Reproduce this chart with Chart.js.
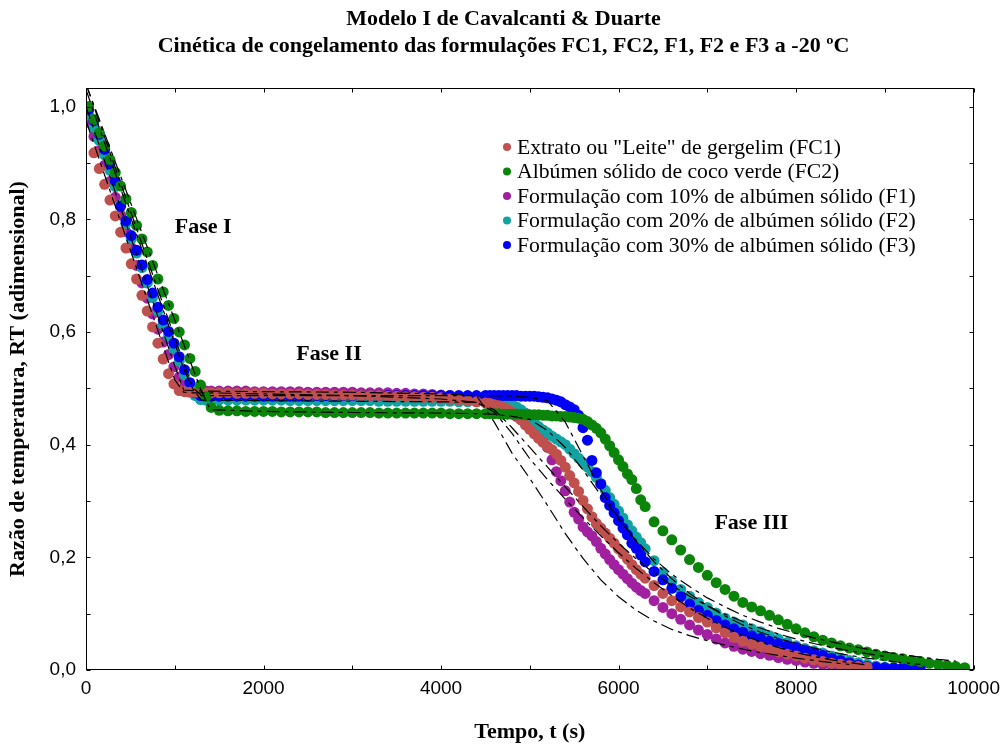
<!DOCTYPE html>
<html>
<head>
<meta charset="utf-8">
<script src="https://cdn.jsdelivr.net/npm/chart.js@4.4.1/dist/chart.umd.min.js"></script>
<style>
  html, body { margin: 0; padding: 0; background: #fff; }
</style>
</head>
<body>
<canvas id="grafico" width="1007" height="747"></canvas>
<script>
// tempos de leitura (s)
const tempo = [30, 90, 150, 210, 270, 330, 390, 450, 510, 570, 630, 690, 750, 810, 870, 930, 990, 1050, 1110, 1170, 1230, 1290, 1350, 1410,
  1500, 1600, 1700, 1800, 1900, 2000,
  2100, 2200, 2300, 2400, 2500, 2600, 2700, 2800, 2900, 3000,
  3100, 3200, 3300, 3400, 3500, 3600, 3700, 3800, 3900, 4000,
  4100, 4200, 4300, 4400,
  4500, 4550, 4600, 4650, 4700, 4750, 4800, 4850, 4900, 4950,
  5000, 5050, 5100, 5150, 5200, 5250, 5300, 5350, 5400, 5450,
  5500, 5550, 5600, 5650, 5700, 5750, 5800, 5850, 5900, 5950,
  6000, 6050, 6100, 6150, 6200, 6250, 6300, 6400,
  6500, 6600, 6700, 6800, 6900, 7000,
  7100, 7200, 7300, 7400, 7500, 7600, 7700, 7800, 7900, 8000,
  8100, 8200, 8300, 8400, 8500, 8600, 8700, 8800, 8900, 9000,
  9100, 9200, 9300, 9400, 9500, 9600, 9700, 9800, 9900, 10000];

// razão de temperatura RT (experimental)
const rtFC1 = [null, 0.918, 0.890, 0.862, 0.834, 0.806, 0.777, 0.749, 0.721, 0.694, 0.665, 0.637, 0.609, 0.580, 0.552, 0.526, 0.508, 0.496, 0.494, 0.493, 0.493, 0.493, 0.492, 0.492,
  0.492, 0.492, 0.491, 0.491, 0.491, 0.491,
  0.490, 0.490, 0.490, 0.490, 0.489, 0.489, 0.489, 0.488, 0.488, 0.488,
  0.487, 0.487, 0.487, 0.486, 0.486, 0.485, 0.485, 0.484, 0.484, 0.483,
  0.481, 0.480, 0.478, 0.476,
  0.474, 0.473, 0.471, 0.469, 0.466, 0.463, 0.458, 0.452, 0.444, 0.435,
  0.427, 0.419, 0.411, 0.404, 0.397, 0.391, 0.383, 0.372, 0.360, 0.345,
  0.332, 0.317, 0.301, 0.286, 0.272, 0.260, 0.252, 0.243, 0.234, 0.225,
  0.215, 0.206, 0.197, 0.187, 0.178, 0.170, 0.163, 0.150,
  0.136, 0.123, 0.112, 0.103, 0.093, 0.085,
  0.075, 0.066, 0.058, 0.051, 0.046, 0.041, 0.036, 0.032, 0.028, 0.025,
  0.021, 0.018, 0.015, 0.012, 0.010, 0.008, 0.006, 0.005, null, null,
  null, null, null, null, null, null, null, null, null, null];

const rtFC2 = [1.000, 0.977, 0.953, 0.930, 0.906, 0.883, 0.859, 0.836, 0.812, 0.789, 0.765, 0.742, 0.718, 0.694, 0.671, 0.647, 0.624, 0.600, 0.577, 0.553, 0.530, 0.506, 0.485, 0.466,
  0.461, 0.460, 0.460, 0.459, 0.459, 0.459,
  0.459, 0.458, 0.458, 0.458, 0.458, 0.458, 0.457, 0.457, 0.457, 0.457,
  0.457, 0.457, 0.456, 0.456, 0.456, 0.456, 0.456, 0.456, 0.456, 0.456,
  0.455, 0.455, 0.455, 0.455,
  0.455, 0.455, 0.455, 0.455, 0.454, 0.454, 0.454, 0.454, 0.454, 0.453,
  0.453, 0.453, 0.453, 0.452, 0.452, 0.451, 0.451, 0.450, 0.450, 0.449,
  0.448, 0.447, 0.445, 0.441, 0.435, 0.429, 0.421, 0.410, 0.398, 0.386,
  0.373, 0.361, 0.348, 0.338, 0.322, 0.302, 0.290, 0.263,
  0.247, 0.231, 0.213, 0.196, 0.182, 0.168,
  0.155, 0.143, 0.131, 0.120, 0.112, 0.105, 0.097, 0.089, 0.081, 0.073,
  0.066, 0.059, 0.053, 0.048, 0.043, 0.039, 0.036, 0.032, 0.028, 0.025,
  0.022, 0.020, 0.017, 0.015, 0.012, 0.010, 0.008, 0.006, 0.004, null];

const rtF1 = [0.972, 0.947, 0.922, 0.896, 0.867, 0.839, 0.808, 0.778, 0.750, 0.718, 0.687, 0.660, 0.632, 0.605, 0.582, 0.560, 0.538, 0.520, 0.505, 0.497, 0.495, 0.495, 0.495, 0.495,
  0.495, 0.495, 0.495, 0.495, 0.494, 0.494,
  0.494, 0.494, 0.494, 0.494, 0.493, 0.493, 0.493, 0.493, 0.493, 0.493,
  0.492, 0.492, 0.492, 0.492, 0.491, 0.491, 0.490, 0.490, 0.489, 0.488,
  0.487, 0.486, 0.485, 0.484,
  0.482, 0.480, 0.476, 0.471, 0.466, 0.461, 0.455, 0.450, 0.445, 0.440,
  0.434, 0.428, 0.422, 0.410, 0.395, 0.373, 0.352, 0.336, 0.318, 0.298,
  0.280, 0.268, 0.254, 0.245, 0.238, 0.228, 0.216, 0.206, 0.196, 0.187,
  0.178, 0.170, 0.162, 0.154, 0.147, 0.141, 0.136, 0.123,
  0.111, 0.100, 0.090, 0.080, 0.071, 0.063,
  0.055, 0.048, 0.042, 0.037, 0.033, 0.029, 0.026, 0.022, 0.019, 0.017,
  0.014, 0.012, 0.010, 0.008, 0.006, null, null, null, null, null,
  null, null, null, null, null, null, null, null, null, null];

const rtF2 = [0.985, 0.963, 0.940, 0.914, 0.887, 0.858, 0.826, 0.792, 0.765, 0.740, 0.714, 0.687, 0.661, 0.637, 0.613, 0.592, 0.570, 0.548, 0.524, 0.503, 0.487, 0.480, 0.479, 0.479,
  0.479, 0.479, 0.479, 0.479, 0.479, 0.479,
  0.479, 0.479, 0.478, 0.478, 0.478, 0.478, 0.478, 0.478, 0.478, 0.478,
  0.478, 0.478, 0.477, 0.477, 0.477, 0.477, 0.477, 0.477, 0.477, 0.477,
  0.477, 0.476, 0.476, 0.476,
  0.476, 0.476, 0.475, 0.475, 0.474, 0.473, 0.471, 0.467, 0.462, 0.456,
  0.449, 0.440, 0.432, 0.426, 0.421, 0.415, 0.410, 0.405, 0.400, 0.392,
  0.384, 0.376, 0.368, 0.360, 0.352, 0.342, 0.331, 0.319, 0.306, 0.294,
  0.282, 0.270, 0.258, 0.247, 0.236, 0.226, 0.215, 0.194,
  0.173, 0.157, 0.143, 0.131, 0.120, 0.111,
  0.101, 0.092, 0.085, 0.080, 0.073, 0.068, 0.061, 0.055, 0.049, 0.043,
  0.038, 0.034, 0.030, 0.025, 0.021, 0.017, 0.013, 0.010, 0.007, 0.005,
  null, null, null, null, null, null, null, null, null, null];

const rtF3 = [0.995, 0.975, 0.951, 0.924, 0.898, 0.868, 0.823, 0.797, 0.771, 0.745, 0.719, 0.693, 0.669, 0.644, 0.621, 0.601, 0.580, 0.556, 0.533, 0.510, 0.492, 0.487, 0.486, 0.486,
  0.486, 0.486, 0.486, 0.486, 0.486, 0.486,
  0.486, 0.486, 0.486, 0.486, 0.486, 0.487, 0.487, 0.487, 0.487, 0.487,
  0.487, 0.487, 0.487, 0.487, 0.487, 0.487, 0.487, 0.487, 0.487, 0.487,
  0.487, 0.487, 0.487, 0.487,
  0.487, 0.487, 0.487, 0.487, 0.487, 0.487, 0.487, 0.487, 0.486, 0.486,
  0.486, 0.486, 0.485, 0.484, 0.483, 0.481, 0.479, 0.476, 0.471, 0.467,
  0.462, 0.452, 0.430, 0.408, 0.372, 0.350, 0.330, 0.306, 0.292, 0.279,
  0.265, 0.252, 0.240, 0.225, 0.216, 0.204, 0.192, 0.175,
  0.160, 0.145, 0.130, 0.117, 0.106, 0.097,
  0.088, 0.080, 0.073, 0.067, 0.061, 0.056, 0.051, 0.047, 0.043, 0.040,
  0.035, 0.031, 0.026, 0.021, 0.017, 0.013, 0.009, 0.006, 0.005, 0.004,
  0.004, 0.004, 0.004, 0.004, null, null, null, null, null, null];

// curvas do modelo I (tracejadas)
const tempoModelo = [0, 1000, 1100, 1200, 1300, 1400, 2000, 3000, 4000, 4400,
  4600, 4800, 5000, 5200, 5400, 5600, 5800, 6000, 6200, 6400, 6600, 6800, 7000, 7200,
  7400, 7600, 7800, 8000, 8200, 8400, 8600, 8800, 9000, 9200, 9400, 9600, 9800, 10000];
const modFC1 = [0.975, 0.515, 0.493, 0.492, 0.492, 0.492, 0.490, 0.487, 0.481, 0.475,
  0.458, 0.420, 0.375, 0.338, 0.303, 0.270, 0.238, 0.208, 0.180, 0.155, 0.132, 0.110, 0.092, 0.076,
  0.062, 0.050, 0.040, 0.031, 0.024, 0.018, 0.013, 0.009, null, null, null, null, null, null];
const modFC2 = [1.040, 0.621, 0.579, 0.537, 0.495, 0.462, 0.459, 0.457, 0.456, 0.455,
  0.454, 0.450, 0.445, 0.425, 0.395, 0.355, 0.310, 0.268, 0.230, 0.197, 0.170, 0.148, 0.128, 0.112,
  0.097, 0.085, 0.074, 0.065, 0.057, 0.050, 0.043, 0.037, 0.032, 0.027, 0.023, 0.019, 0.016, null];
const modF1 = [1.000, 0.540, 0.497, 0.496, 0.495, 0.495, 0.494, 0.493, 0.490, 0.487,
  0.440, 0.385, 0.340, 0.292, 0.242, 0.198, 0.160, 0.130, 0.106, 0.087, 0.072, 0.061, 0.052, 0.044,
  0.037, 0.031, 0.026, 0.021, 0.017, 0.013, 0.010, null, null, null, null, null, null, null];
const modF2 = [1.030, 0.580, 0.535, 0.500, 0.479, 0.479, 0.478, 0.477, 0.476, 0.475,
  0.462, 0.430, 0.395, 0.360, 0.325, 0.290, 0.256, 0.225, 0.197, 0.172, 0.150, 0.131, 0.114, 0.099,
  0.086, 0.074, 0.064, 0.055, 0.047, 0.040, 0.034, 0.029, 0.024, null, null, null, null, null];
const modF3 = [1.040, 0.590, 0.545, 0.502, 0.487, 0.487, 0.487, 0.487, 0.487, 0.487,
  0.487, 0.486, 0.484, 0.478, 0.440, 0.380, 0.320, 0.270, 0.228, 0.192, 0.162, 0.136, 0.114, 0.096,
  0.080, 0.067, 0.056, 0.047, 0.039, 0.032, 0.026, 0.021, 0.017, 0.013, 0.010, null, null, null];

const nomes = ['Extrato ou "Leite" de gergelim (FC1)', 'Albúmen sólido de coco verde (FC2)',
  'Formulação com 10% de albúmen sólido (F1)', 'Formulação com 20% de albúmen sólido (F2)',
  'Formulação com 30% de albúmen sólido (F3)'];
const cores = ['#c0504d', '#0a850a', '#a020a0', '#12a2a2', '#0000f5'];
const ordemDesenho = [2, 1, 5, 4, 3]; // menor = por cima

// marcas dos eixos e rótulos das fases
const marcasX = [0, 1000, 2000, 3000, 4000, 5000, 6000, 7000, 8000, 9000, 10000];
const marcasY = [0, 0.1, 0.2, 0.3, 0.4, 0.5, 0.6, 0.7, 0.8, 0.9, 1.0];
const fases = [
  { texto: 'Fase I', t: 1000, rt: 0.785 },
  { texto: 'Fase II', t: 2370, rt: 0.56 },
  { texto: 'Fase III', t: 7080, rt: 0.261 }
];

const serif = "'Liberation Serif', 'Times New Roman', serif";
const sans = "'Liberation Sans', Arial, sans-serif";

function pares(xs, ys) {
  const out = [];
  ys.forEach((v, i) => { if (v !== null) out.push({ x: xs[i], y: v }); });
  return out;
}

const series = [rtFC1, rtFC2, rtF1, rtF2, rtF3];
const modelos = [modFC1, modFC2, modF1, modF2, modF3];

const datasets = [];
modelos.forEach((m, i) => {
  datasets.push({
    type: 'line', label: 'modelo ' + i, data: pares(tempoModelo, m),
    borderColor: '#000', borderWidth: 1.2, borderDash: [13, 5, 4, 5],
    pointRadius: 0, fill: false, tension: 0, order: 0
  });
});
series.forEach((s, i) => {
  datasets.push({
    type: 'scatter', label: nomes[i], data: pares(tempo, s),
    backgroundColor: cores[i], borderColor: cores[i], borderWidth: 0,
    pointRadius: 5.5, order: ordemDesenho[i]
  });
});

const extras = {
  id: 'extras',
  afterDatasetsDraw(chart) {
    const { ctx, chartArea: a, scales: { x, y } } = chart;
    ctx.save();
    ctx.strokeStyle = '#000';
    ctx.lineWidth = 1;
    const l = Math.round(a.left) + 0.5, r = Math.round(a.right) - 0.5;
    const t = Math.round(a.top) + 0.5, b = Math.round(a.bottom) - 0.5;
    ctx.strokeRect(l, t, r - l, b - t);
    const tam = 4;
    ctx.beginPath();
    marcasX.forEach(v => {
      const px = Math.round(x.getPixelForValue(v)) + 0.5;
      ctx.moveTo(px, b); ctx.lineTo(px, b - tam);
      ctx.moveTo(px, t); ctx.lineTo(px, t + tam);
    });
    marcasY.forEach(v => {
      const py = Math.round(y.getPixelForValue(v)) + 0.5;
      ctx.moveTo(l, py); ctx.lineTo(l + tam, py);
      ctx.moveTo(r, py); ctx.lineTo(r - tam, py);
    });
    ctx.stroke();

    ctx.fillStyle = '#000';
    ctx.font = 'bold 22px ' + serif;
    ctx.textBaseline = 'middle';
    ctx.textAlign = 'left';
    fases.forEach(f => ctx.fillText(f.texto, x.getPixelForValue(f.t), y.getPixelForValue(f.rt)));

    // legenda
    ctx.font = '21.7px ' + serif;
    const lx = a.left + 421, ly = a.top + 59;
    nomes.forEach((n, i) => {
      const yy = ly + i * 24.5;
      ctx.fillStyle = cores[i];
      ctx.beginPath();
      ctx.arc(lx, yy, 4, 0, Math.PI * 2);
      ctx.fill();
      ctx.fillStyle = '#000';
      ctx.fillText(n, lx + 10, yy + 1);
    });
    ctx.restore();
  }
};

new Chart(document.getElementById('grafico'), {
  type: 'scatter',
  data: { datasets },
  options: {
    responsive: false,
    animation: false,
    layout: { padding: 0 },
    plugins: {
      legend: { display: false },
      tooltip: { enabled: false },
      title: {
        display: true,
        text: ['Modelo I de Cavalcanti & Duarte',
          'Cinética de congelamento das formulações FC1, FC2, F1, F2 e F3 a -20 ºC'],
        color: '#000',
        font: { family: serif, size: 22, weight: 'bold', lineHeight: '27px' },
        padding: { top: 6, bottom: 28 }
      }
    },
    scales: {
      x: {
        type: 'linear', min: 0, max: 10000,
        grid: { display: false, drawTicks: false },
        border: { display: false },
        ticks: {
          stepSize: 2000, includeBounds: false, color: '#000', padding: 7,
          maxRotation: 0, font: { family: sans, size: 19 },
          callback: v => String(v)
        },
        title: {
          display: true, text: 'Tempo, t (s)', color: '#000',
          font: { family: serif, size: 22, weight: 'bold', lineHeight: 1.2 },
          padding: { top: 0, bottom: 1 }
        },
        afterFit: s => { s.height = 77; }
      },
      y: {
        type: 'linear', min: 0, max: 1.033,
        grid: { display: false, drawTicks: false },
        border: { display: false },
        ticks: {
          stepSize: 0.2, includeBounds: false, color: '#000', padding: 10,
          font: { family: sans, size: 19 },
          callback: v => v.toFixed(1).replace('.', ',')
        },
        title: {
          display: true, text: 'Razão de temperatura, RT (adimensional)', color: '#000',
          font: { family: serif, size: 22, weight: 'bold', lineHeight: 1.2 },
          padding: { top: 5, bottom: 0 }
        },
        afterFit: s => { s.width = 86; }
      },
      margemDireita: {
        type: 'linear', position: 'right', display: true,
        grid: { display: false, drawTicks: false },
        border: { display: false },
        ticks: { display: false },
        afterFit: s => { s.width = 31; }
      }
    }
  },
  plugins: [extras]
});
</script>
</body>
</html>
